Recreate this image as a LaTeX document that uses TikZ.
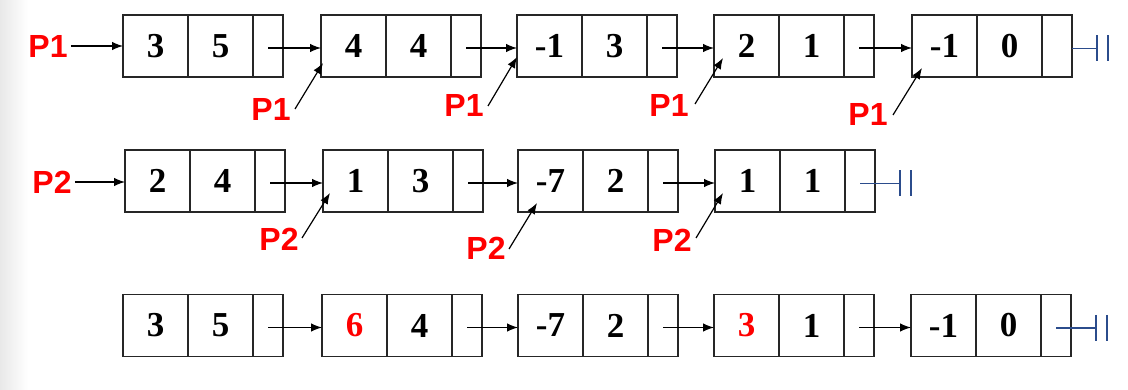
\documentclass[tikz,border=0pt]{standalone}
\usepackage{fontspec}
\setmainfont{Liberation Serif}
\newfontfamily\pfont{Liberation Sans}
\usetikzlibrary{arrows.meta}
\definecolor{nullblue}{HTML}{2B4C8C}
\definecolor{pred}{HTML}{FF0000}
\tikzset{
 cellA/.style={draw=black!85, line width=1.4pt, minimum width=65pt, minimum height=62pt, inner sep=0pt, outer sep=0pt, font=\bfseries\fontsize{35}{35}\selectfont},
 cellP/.style={cellA, minimum width=30pt},
 arr/.style={line width=1.2pt, -{Latex[length=11pt,width=8.5pt]}},
 nullc/.style={draw=nullblue, line width=1.5pt},
 plab/.style={text=pred, font=\pfont\bfseries\fontsize{32}{32}\selectfont, inner sep=0pt},
}
\newcommand\elem[5]{%
 \node[cellA,anchor=west] (#1a) at (#2,#3) {#4};
 \node[cellA,anchor=west] (#1b) at (#1a.east) {#5};
 \node[cellP,anchor=west] (#1p) at (#1b.east) {};}
\newcommand\nullend[2]{% #1 start point, #2 name of coordinate
 \coordinate (#2) at ([xshift=25pt,yshift=-2.5pt]#1.east);
 \draw[nullc] ([yshift=13pt]#2) -- ([yshift=-13pt]#2);
 \draw[nullc] ([xshift=11pt,yshift=13pt]#2) -- ([xshift=11pt,yshift=-13pt]#2);}
\begin{document}
\begin{tikzpicture}[x=1pt,y=-1pt]
\useasboundingbox (0,0) rectangle (1128,390);
\fill[white] (0,0) rectangle (1128,390);
\shade[left color=black!9, right color=white] (0,0) rectangle (28,390);

% row 1
\elem{r1e1}{123}{46}{3}{5}
\elem{r1e2}{321}{46}{4}{4}
\elem{r1e3}{517}{46}{-1}{3}
\elem{r1e4}{714}{46}{2}{1}
\elem{r1e5}{912}{46}{-1}{0}
\draw[arr] ([yshift=-2pt]r1e1p.center) -- ([yshift=-2pt]r1e2a.west);
\draw[arr] ([yshift=-2pt]r1e2p.center) -- ([yshift=-2pt]r1e3a.west);
\draw[arr] ([yshift=-2pt]r1e3p.center) -- ([yshift=-2pt]r1e4a.west);
\draw[arr] ([yshift=-2pt]r1e4p.center) -- ([yshift=-2pt]r1e5a.west);
\nullend{r1e5p}{z1}
\draw[nullc] ([yshift=-2.5pt]r1e5p.east) -- (z1);

% row 2
\elem{r2e1}{125}{181}{2}{4}
\elem{r2e2}{323}{181}{1}{3}
\elem{r2e3}{518}{181}{-7}{2}
\elem{r2e4}{715}{181}{1}{1}
\draw[arr] ([yshift=-2pt]r2e1p.center) -- ([yshift=-2pt]r2e2a.west);
\draw[arr] ([yshift=-2pt]r2e2p.center) -- ([yshift=-2pt]r2e3a.west);
\draw[arr] ([yshift=-2pt]r2e3p.center) -- ([yshift=-2pt]r2e4a.west);
\nullend{r2e4p}{z2}
\draw[nullc] ([yshift=-2.5pt]r2e4p.center) -- (z2);

% row 3
\elem{r3e1}{123}{325.5}{3}{5}
\elem{r3e2}{322}{325.5}{\textcolor{pred}{6}}{4}
\elem{r3e3}{518}{325.5}{-7}{2}
\elem{r3e4}{714}{325.5}{\textcolor{pred}{3}}{1}
\elem{r3e5}{911}{325.5}{-1}{0}
\draw[arr] ([yshift=-2pt]r3e1p.center) -- ([yshift=-2pt]r3e2a.west);
\draw[arr] ([yshift=-2pt]r3e2p.center) -- ([yshift=-2pt]r3e3a.west);
\draw[arr] ([yshift=-2pt]r3e3p.center) -- ([yshift=-2pt]r3e4a.west);
\draw[arr] ([yshift=-2pt]r3e4p.center) -- ([yshift=-2pt]r3e5a.west);
\nullend{r3e5p}{z3}
\draw[nullc] ([yshift=-2.5pt]r3e5p.center) -- (z3);

% head pointers
\node[plab] (P1m) at (48,46) {P1};
\draw[arr,shorten <=3pt] (P1m.east) -- (r1e1a.west);
\node[plab] (P2m) at (52,182) {P2};
\draw[arr,shorten <=3pt] (P2m.east) -- (P2m.east -| r2e1a.west);

% moving P1 pointers
\node[plab] (q1) at (271,109) {P1};
\node[plab] (q2) at (464,105) {P1};
\node[plab] (q3) at (669,105) {P1};
\node[plab] (q4) at (868,114) {P1};
\coordinate (q1s) at ([xshift=24pt]q1.center);
\coordinate (q2s) at ([xshift=24pt,yshift=-1pt]q2.center);
\coordinate (q3s) at ([xshift=26pt,yshift=1pt]q3.center);
\coordinate (q4s) at ([xshift=25pt,yshift=-1pt]q4.center);
\draw[arr] (q1s) -- ([xshift=2pt,yshift=14pt]r1e2a.south west);
\draw[arr] (q2s) -- ([xshift=0pt,yshift=20pt]r1e3a.south west);
\draw[arr] (q3s) -- ([xshift=9pt,yshift=19pt]r1e4a.south west);
\draw[arr] (q4s) -- ([xshift=10pt,yshift=9pt]r1e5a.south west);

% moving P2 pointers
\node[plab] (u1) at (279,239) {P2};
\node[plab] (u2) at (486,248) {P2};
\node[plab] (u3) at (672,240) {P2};
\coordinate (u1s) at ([xshift=23pt,yshift=1pt]u1.center);
\coordinate (u2s) at ([xshift=23pt,yshift=-1pt]u2.center);
\coordinate (u3s) at ([xshift=24pt,yshift=2pt]u3.center);
\draw[arr] (u1s) -- ([xshift=7pt,yshift=19pt]r2e2a.south west);
\draw[arr] (u2s) -- ([xshift=19pt,yshift=9pt]r2e3a.south west);
\draw[arr] (u3s) -- ([xshift=8pt,yshift=19pt]r2e4a.south west);
\end{tikzpicture}
\end{document}
